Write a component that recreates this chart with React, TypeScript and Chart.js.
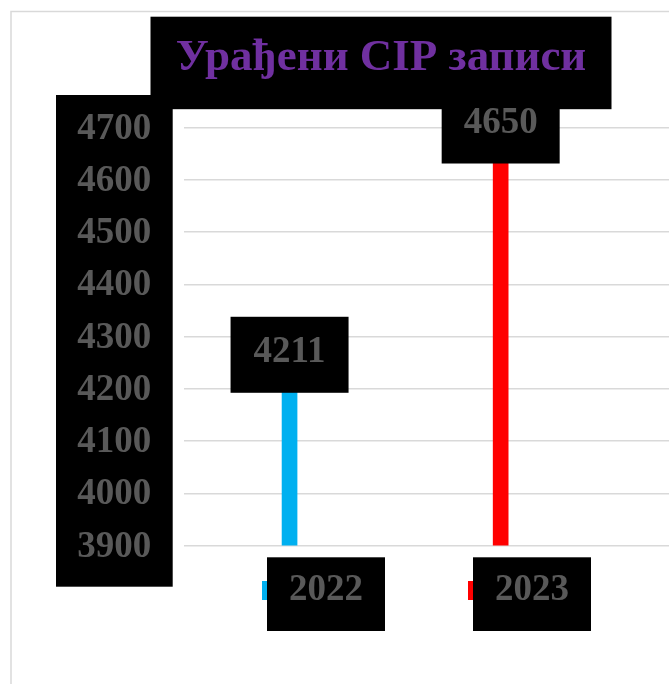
import React, { useEffect, useRef } from "react";
import { Chart, registerables } from "chart.js";

Chart.register(...registerables);

// ---- data ----
const years = [2022, 2023];
const seriesLabels = ["2022", "2023"];
const values = [4211, 4650];
const colors = ["#00B0F0", "#FF0000"];
const yTicks = [3900, 4000, 4100, 4200, 4300, 4400, 4500, 4600, 4700];
const titleText = "Урађени CIP записи";

// ---- styles ----
const W = 746;
const H = 700;
const FONT = "'Liberation Serif', 'Times New Roman', serif";
const GRAY = "#595959";
const BLACK = "#000000";

const decorPlugin = {
  id: "decor",
  beforeDraw(chart: any) {
    const { ctx, chartArea, scales } = chart;
    const y = scales.y;
    ctx.save();
    // chart area border
    ctx.strokeStyle = "#D9D9D9";
    ctx.lineWidth = 1.5;
    ctx.strokeRect(3, 3.5, W + 20, H + 20);
    // title background
    ctx.fillStyle = BLACK;
    const tb = chart.titleBlock;
    const cx = (tb.left + tb.right) / 2;
    ctx.fillRect(cx - 230.5, 8.7, 461, 92.5);
    // value axis background
    const left = chartArea.left - 128;
    const right = chartArea.left - 11.3;
    ctx.fillRect(left, y.top - 32.7, right - left, y.bottom - y.top + 73.9);
    ctx.restore();
  },
  afterDatasetsDraw(chart: any) {
    const { ctx } = chart;
    ctx.save();
    ctx.font = `bold 37px ${FONT}`;
    ctx.textAlign = "center";
    ctx.textBaseline = "middle";
    chart.data.datasets.forEach((ds: any, i: number) => {
      const meta = chart.getDatasetMeta(i);
      meta.data.forEach((el: any, j: number) => {
        const v = ds.data[j].y;
        const cx = el.x;
        const cy = el.y - 28.3;
        ctx.fillStyle = BLACK;
        ctx.fillRect(cx - 59, cy - 38, 118, 76);
        ctx.fillStyle = GRAY;
        ctx.fillText(String(v), cx, cy - 2);
      });
    });
    ctx.restore();
  },
  afterDraw(chart: any) {
    const { ctx, chartArea } = chart;
    ctx.save();
    ctx.font = `bold 37px ${FONT}`;
    ctx.textAlign = "center";
    ctx.textBaseline = "middle";
    const startX = chartArea.left + 78;
    const pitch = 206;
    const top = chartArea.bottom + 11.8;
    chart.data.datasets.forEach((ds: any, i: number) => {
      const s = startX + i * pitch;
      ctx.fillStyle = ds.backgroundColor;
      ctx.fillRect(s, top + 23.7, 19, 19);
      ctx.fillStyle = BLACK;
      ctx.fillRect(s + 5, top, 118, 73.7);
      ctx.fillStyle = GRAY;
      ctx.fillText(ds.label, s + 64, top + 33);
    });
    ctx.restore();
  },
};

export default function App() {
  const ref = useRef<HTMLCanvasElement | null>(null);

  useEffect(() => {
    if (!ref.current) return;
    const chart = new Chart(ref.current, {
      type: "bar",
      data: {
        datasets: years.map((yr, i) => ({
          label: seriesLabels[i],
          data: [{ x: yr, y: values[i] }],
          backgroundColor: colors[i],
          barThickness: 15,
          grouped: false,
        })),
      } as any,
      options: {
        responsive: false,
        animation: false,
        devicePixelRatio: 1,
        layout: { padding: { top: 0, left: 0, right: 0, bottom: H - 537.5 } },
        plugins: {
          legend: { display: false },
          tooltip: { enabled: false },
          title: {
            display: true,
            text: titleText,
            color: "#7030A0",
            font: { family: FONT, size: 45, weight: "bold", lineHeight: 1.2 },
            padding: { top: 23.4, bottom: 42.3 },
          },
        },
        scales: {
          x: { type: "linear", min: 2021.5, max: 2024.2, display: false, offset: false },
          y: {
            min: 3900,
            max: 4700,
            afterBuildTicks: (s: any) => {
              s.ticks = yTicks.map((v) => ({ value: v }));
            },
            afterFit: (s: any) => {
              s.width = 176;
            },
            ticks: {
              padding: 32.7,
              labelOffset: 1.5,
              color: GRAY,
              font: { family: FONT, size: 37, weight: "bold" },
              callback: (v: any) => String(v),
            },
            grid: { color: "#D9D9D9", lineWidth: 1.5, drawTicks: false },
            border: { display: false },
          },
        },
      } as any,
      plugins: [decorPlugin],
    });
    return () => chart.destroy();
  }, []);

  return (
    <div style={{ position: "fixed", left: 8, top: 8, width: 661, height: 676, overflow: "hidden" }}>
      <canvas ref={ref} width={W} height={H} style={{ display: "block", width: W, height: H }} />
    </div>
  );
}
